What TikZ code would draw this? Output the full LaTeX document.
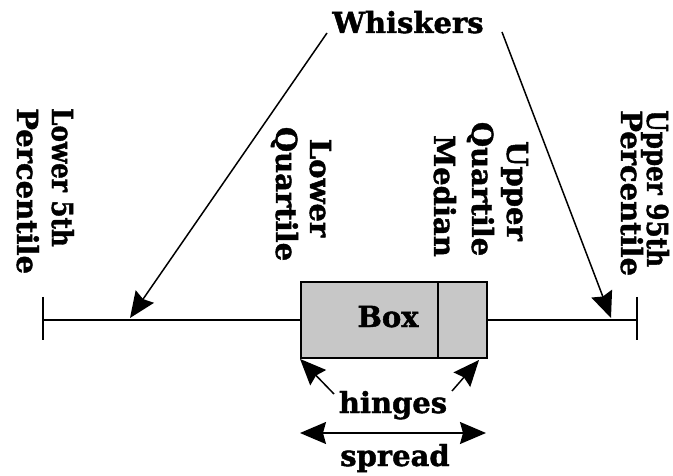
\documentclass[tikz,border=0pt]{standalone}
\usepackage{fontspec}
\setmainfont{DejaVu Serif}[BoldFeatures={FakeBold=1.5}]
\usetikzlibrary{arrows.meta}
\tikzset{
  headtip/.tip={Stealth[length=26pt,width=22pt,inset=3pt]}
}
\begin{document}
\begin{tikzpicture}[x=1pt,y=-1pt,
  lbl/.style={inner sep=0pt, font=\fontsize{29}{35}\selectfont\bfseries},
  vlbl/.style={lbl, rotate=-90},
  thinline/.style={line width=1.5pt},
  axisline/.style={line width=1.9pt},
  bigarrow/.style={thinline, -headtip},
  boxstyle/.style={draw, line width=1.9pt, fill=black!22, minimum width=186pt, minimum height=76pt, inner sep=0pt}
]
\useasboundingbox (0,0) rectangle (673,476);
% box
\node[boxstyle] (box) at (394,320) {};
\coordinate (medtop) at (438,282);
\draw[axisline] (medtop) -- (medtop |- box.south);
\node[lbl, anchor=base] (boxlbl) at (388,327) {Box};
% main line and ticks
\coordinate (lt) at (43,320);
\coordinate (rt) at (637,320);
\coordinate (ltt) at (43,297);
\coordinate (ltb) at (43,340);
\coordinate (rtt) at (637,297);
\coordinate (rtb) at (637,340);
\draw[axisline] (lt) -- (box.west);
\draw[axisline] (box.east) -- (rt);
\draw[axisline] (ltt) -- (ltb);
\draw[axisline] (rtt) -- (rtb);
% labels
\node[lbl, anchor=base] (whiskers) at (408,33) {Whiskers};
\node[vlbl, xscale=0.85, anchor=base west] (l5a) at (52,108) {Lower 5th};
\node[vlbl, anchor=base west] (l5b) at (17,108) {Percentile};
\node[vlbl, anchor=base] (lqa) at (310,188) {Lower};
\node[vlbl, anchor=base] (lqb) at (276,194) {Quartile};
\node[vlbl, anchor=base] (uqa) at (507,191) {Upper};
\node[vlbl, anchor=base] (uqb) at (472,189) {Quartile};
\node[vlbl, anchor=base] (med) at (434,196) {Median};
\node[vlbl, xscale=0.85, anchor=base west] (u95a) at (647,110) {Upper 95th};
\node[vlbl, anchor=base west] (u95b) at (621,110) {Percentile};
\node[lbl, anchor=base] (hinges) at (393,413) {hinges};
\node[lbl, anchor=base] (spread) at (395,466) {spread};
% whisker arrows
\coordinate (wls) at (327,33);
\coordinate (wrs) at (502,32);
\coordinate (wle) at (130,318);
\coordinate (wre) at (611,318);
\draw[bigarrow] (wls) -- (wle);
\draw[bigarrow] (wrs) -- (wre);
% hinges arrows
\coordinate (hls) at (334,394);
\coordinate (hrs) at (452,391);
\coordinate (hre) at (479,360);
\draw[bigarrow] (hls) -- (box.south west);
\draw[bigarrow] (hrs) -- (hre);
% spread arrow
\coordinate (sl) at (300,433);
\coordinate (sr) at (486,433);
\draw[thinline, headtip-headtip] (sl) -- (sr);
\end{tikzpicture}
\end{document}
